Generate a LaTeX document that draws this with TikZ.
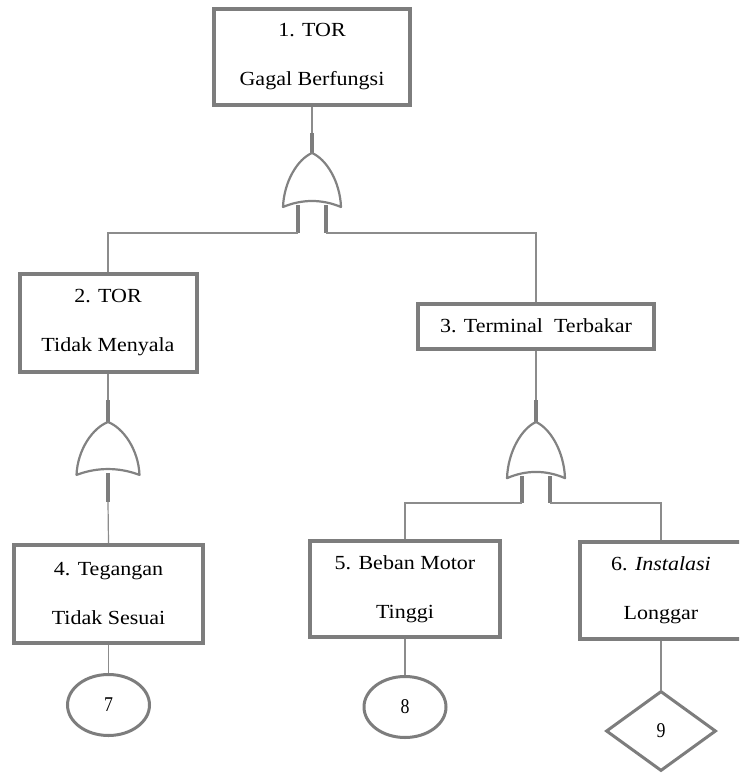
\documentclass[tikz,border=0pt]{standalone}
\usepackage{fontspec}
\setmainfont{Liberation Serif}[FakeStretch=1.1]
\newfontfamily\digitfont{Liberation Serif}[FakeStretch=0.85]
\usetikzlibrary{shapes.geometric,calc}
\definecolor{boxgray}{RGB}{125,125,125}
\definecolor{linegray}{RGB}{140,140,140}
\definecolor{gategray}{RGB}{130,130,130}
\begin{document}
\begin{tikzpicture}[x=1pt,y=-1pt,
  evbox/.style={draw=boxgray,line width=4pt,fill=white,inner sep=0pt,align=center,
    font=\fontsize{20}{49}\selectfont},
  basic/.style={draw=boxgray,line width=3pt,fill=white,inner sep=0pt,
    font=\digitfont\fontsize{21}{24}\selectfont},
  conn/.style={draw=linegray,line width=1.2pt},
  stem/.style={draw=boxgray,line width=3.5pt},
  gateline/.style={draw=gategray,line width=2.2pt,fill=white,line join=round},
  orgate/.pic={\path[gateline] (-29,54) .. controls (-28,28) and (-14,6) .. (0,0)
      .. controls (14,6) and (28,28) .. (29,54)
      .. controls (10,46) and (-10,46) .. cycle;}]
\useasboundingbox (0,0) rectangle (739,773);
\clip (0,0) rectangle (739,773);
\fill[white] (0,0) rectangle (739,773);

% events
\node[evbox,minimum width=196pt,minimum height=96pt] (e1) at (312,57) {1. TOR\\Gagal Berfungsi};
\node[evbox,minimum width=177pt,minimum height=98pt] (e2) at (108,323) {2. TOR\\Tidak Menyala};
\node[evbox,minimum width=236pt,minimum height=45pt] (e3) at (536,326) {3. Terminal\ \ Terbakar};
\node[evbox,minimum width=189pt,minimum height=98pt] (e4) at (108.5,594) {4. Tegangan\\Tidak Sesuai};
\node[evbox,minimum width=190pt,minimum height=96pt] (e5) at (405,589) {5. Beban Motor\\Tinggi};
\node[evbox,minimum width=162pt,minimum height=97pt] (e6) at (661,590.5) {6. \textit{Instalasi}\\Longgar};

% basic events
\node[basic,ellipse,minimum width=82pt,minimum height=61pt] (c7) at (108.5,705) {7};
\node[basic,ellipse,minimum width=82pt,minimum height=61pt] (c8) at (405,707) {8};
\node[basic,diamond,minimum width=110pt,minimum height=80pt] (d9) at (661,731) {9};

% gate anchor points
\coordinate (g1top) at (312,133);  \coordinate (g1) at (312,153);
\coordinate (g1a) at (298,205);    \coordinate (g1b) at (326,205);
\coordinate (j1a) at (298,233);    \coordinate (j1b) at (326,233);
\coordinate (g2top) at (108,400);  \coordinate (g2) at (108,422);
\coordinate (g2in) at (108,473);   \coordinate (g2out) at (108,502);
\coordinate (g3top) at (536,400);  \coordinate (g3) at (536,422);
\coordinate (g3a) at (522,476);    \coordinate (g3b) at (550,476);
\coordinate (j3a) at (522,503);    \coordinate (j3b) at (550,503);

% connectors
\draw[conn] (e1.south) -- (g1top);
\draw[stem] (g1top) -- (g1);
\draw[stem] (g1a) -- (j1a);
\draw[stem] (g1b) -- (j1b);
\draw[conn] (e2.north) |- (j1a);
\draw[conn] (e3.north) |- (j1b);

\draw[conn] (e2.south) -- (g2top);
\draw[stem] (g2top) -- (g2);
\draw[stem] (g2in) -- (g2out);
\draw[conn] (g2out) -- (e4.north);

\draw[conn] (e3.south) -- (g3top);
\draw[stem] (g3top) -- (g3);
\draw[stem] (g3a) -- (j3a);
\draw[stem] (g3b) -- (j3b);
\draw[conn] (e5.north) |- (j3a);
\draw[conn] (e6.north) |- (j3b);

\draw[conn] (e4.south) -- (c7.north);
\draw[conn] (e5.south) -- (c8.north);
\draw[conn] (e6.south) -- (d9.north);

% OR gates
\pic at (g1) {orgate};
\pic[xscale=1.086,yscale=0.98] at (g2) {orgate};
\pic[yscale=1.04] at (g3) {orgate};
\end{tikzpicture}
\end{document}
